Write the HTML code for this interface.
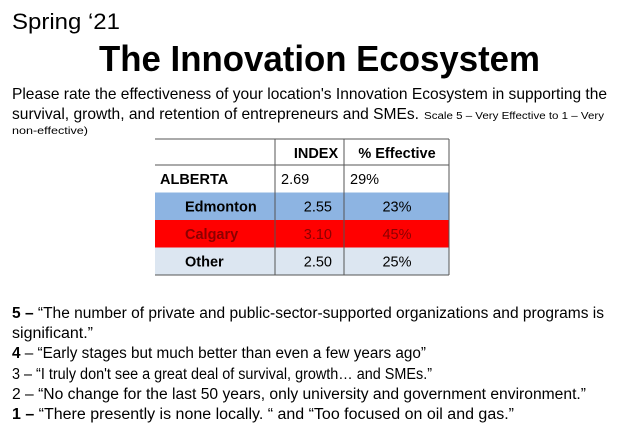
<!DOCTYPE html>
<html><head><meta charset="utf-8"><style>
html,body{margin:0;padding:0;background:#fff;}
svg{display:block;font-family:"Liberation Sans",sans-serif;}
</style></head><body>
<svg width="620" height="434" viewBox="0 0 620 434">
<text x="12" y="29" font-size="22" textLength="108" lengthAdjust="spacingAndGlyphs">Spring ‘21</text>
<text x="99" y="71" font-size="36" font-weight="bold" textLength="441" lengthAdjust="spacingAndGlyphs">The Innovation Ecosystem</text>
<text x="12" y="99" font-size="16" textLength="595" lengthAdjust="spacingAndGlyphs">Please rate the effectiveness of your location's Innovation Ecosystem in supporting the</text>
<text x="12" y="119" font-size="16" textLength="407" lengthAdjust="spacingAndGlyphs">survival, growth, and retention of entrepreneurs and SMEs.</text>
<text x="424" y="119" font-size="10" textLength="180" lengthAdjust="spacingAndGlyphs">Scale 5 – Very Effective to 1 – Very</text>
<text x="12" y="134" font-size="10" textLength="76" lengthAdjust="spacingAndGlyphs">non-effective)</text>
<g id="tbl"></g>
<g font-size="15.5">
<text x="12" y="318" textLength="592" lengthAdjust="spacingAndGlyphs"><tspan font-weight="bold">5 –</tspan> “The number of private and public-sector-supported organizations and programs is</text>
<text x="12" y="338" textLength="81" lengthAdjust="spacingAndGlyphs">significant.”</text>
<text x="12" y="358" textLength="414" lengthAdjust="spacingAndGlyphs"><tspan font-weight="bold">4</tspan> – “Early stages but much better than even a few years ago”</text>
<text x="12" y="379" textLength="420" lengthAdjust="spacingAndGlyphs">3 – “I truly don't see a great deal of survival, growth… and SMEs.”</text>
<text x="12" y="399" textLength="574" lengthAdjust="spacingAndGlyphs">2 – “No change for the last 50 years, only university and government environment.”</text>
<text x="12" y="419" textLength="502" lengthAdjust="spacingAndGlyphs"><tspan font-weight="bold">1 –</tspan> “There presently is none locally. “ and “Too focused on oil and gas.”</text>
</g>
</svg>
<script>
const regions=["ALBERTA","Edmonton","Calgary","Other"];
const indexVals=["2.69","2.55","3.10","2.50"];
const pctVals=["29%","23%","45%","25%"];
const rowFills=["#ffffff","#8db4e2","#ff0000","#dce6f1"];
const textFills=["#000","#000","#8b0000","#000"];
const NS="http://www.w3.org/2000/svg";
const g=document.getElementById("tbl");
const x0=155,x1=275,x2=344,x3=449,yH=139,hH=26,rh=27.5;
function mk(tag,attrs){const e=document.createElementNS(NS,tag);for(const k in attrs)e.setAttribute(k,attrs[k]);g.appendChild(e);return e;}
function txt(s,x,y,anchor,bold,fill){const t=mk("text",{x:x,y:y,"font-size":14.5,"text-anchor":anchor,"font-weight":bold?"bold":"normal",fill:fill});t.textContent=s;return t;}
let h1=txt("INDEX",316,yH+19,"middle",true,"#000");


let h2=txt("% Effective",397,yH+19,"middle",true,"#000");


regions.forEach((r,i)=>{
  const y=yH+hH+i*rh;
  const rect=mk("rect",{x:x0,y:y,width:x3-x0,height:rh,fill:rowFills[i]});
  
  
  const first=i===0;
  const a=txt(r,first?x0+5:x0+30,y+19,"start",true,textFills[i]);
  
  
  const b=first?txt(indexVals[i],x1+6,y+19,"start",false,textFills[i]):txt(indexVals[i],x1+57,y+19,"end",false,textFills[i]);
  
  
  const c=first?txt(pctVals[i],x2+6,y+19,"start",false,textFills[i]):txt(pctVals[i],397,y+19,"middle",false,textFills[i]);
  
  
});
const yEnd=yH+hH+regions.length*rh;
[[x0,yH,x3,yH],[x0,yEnd,x3,yEnd],[x1,yH,x1,yEnd],[x2,yH,x2,yEnd],[x3,yH,x3,yEnd],[x0,yH+hH,x3,yH+hH]].forEach((l,i)=>{
  const ln=mk("line",{x1:l[0],y1:l[1],x2:l[2],y2:l[3],stroke:"#555","stroke-width":1});
  
  
});
</script>
</body></html>
